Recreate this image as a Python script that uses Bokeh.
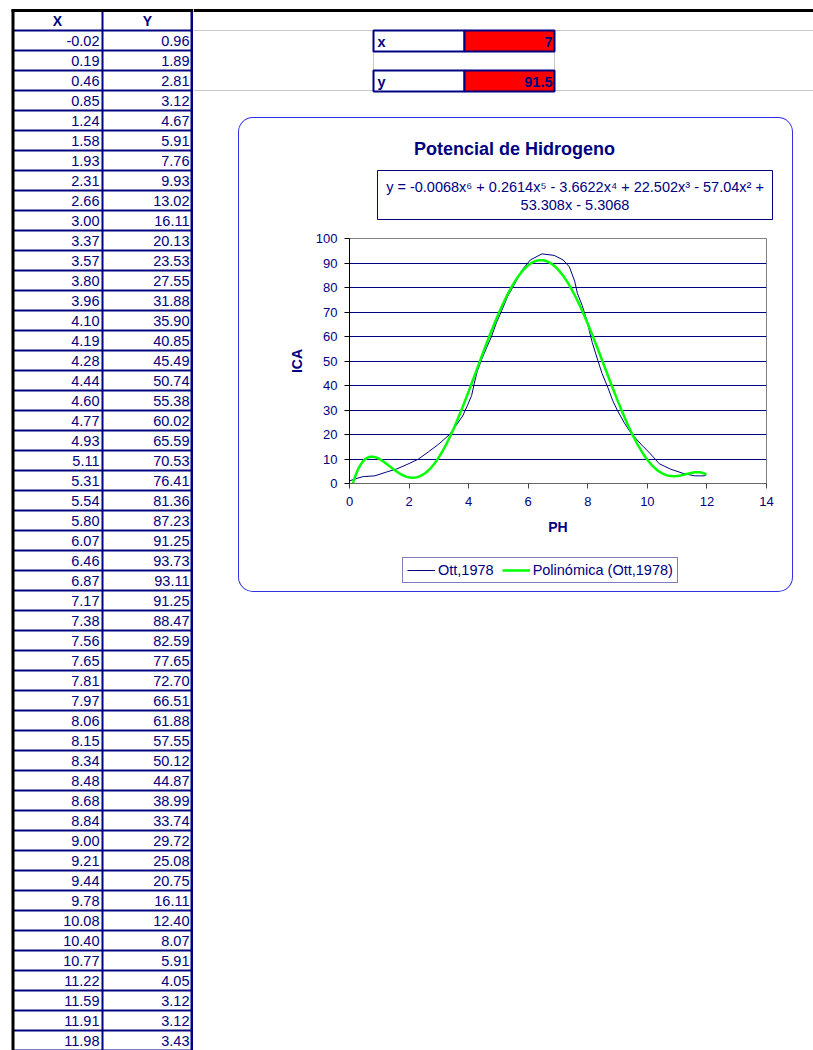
import numpy as np
from bokeh.plotting import figure
from bokeh.models import Range1d, Legend, LegendItem, Spacer
from bokeh.layouts import row, column
from bokeh.core.properties import value
from bokeh.embed import file_html
from bokeh.resources import INLINE

# ---------------- data ----------------
PH = [-0.02, 0.19, 0.46, 0.85, 1.24, 1.58, 1.93, 2.31, 2.66, 3.00, 3.37, 3.57, 3.80,
      3.96, 4.10, 4.19, 4.28, 4.44, 4.60, 4.77, 4.93, 5.11, 5.31, 5.54, 5.80, 6.07,
      6.46, 6.87, 7.17, 7.38, 7.56, 7.65, 7.81, 7.97, 8.06, 8.15, 8.34, 8.48, 8.68,
      8.84, 9.00, 9.21, 9.44, 9.78, 10.08, 10.40, 10.77, 11.22, 11.59, 11.91, 11.98]
ICA = [0.96, 1.89, 2.81, 3.12, 4.67, 5.91, 7.76, 9.93, 13.02, 16.11, 20.13, 23.53, 27.55,
       31.88, 35.90, 40.85, 45.49, 50.74, 55.38, 60.02, 65.59, 70.53, 76.41, 81.36, 87.23, 91.25,
       93.73, 93.11, 91.25, 88.47, 82.59, 77.65, 72.70, 66.51, 61.88, 57.55, 50.12, 44.87, 38.99,
       33.74, 29.72, 25.08, 20.75, 16.11, 12.40, 8.07, 5.91, 4.05, 3.12, 3.12, 3.43]
POLY_DEGREE = 6
CELL_X = "7"
CELL_Y = "91.5"
X_TICKS = [0, 2, 4, 6, 8, 10, 12, 14]
Y_TICKS = [0, 10, 20, 30, 40, 50, 60, 70, 80, 90, 100]
TITLE = "Potencial de Hidrogeno"
EQ_LINE1 = "y = -0.0068x\u2076 + 0.2614x\u2075 - 3.6622x\u2074 + 22.502x\u00b3 - 57.04x\u00b2 +"
EQ_LINE2 = "53.308x - 5.3068"
SERIES_NAME = "Ott,1978"
TREND_NAME = "Polin\u00f3mica (Ott,1978)"
HEAD_X = "X"
HEAD_Y = "Y"

NAVY = "#000080"
GREEN = "#00FF00"
FONT = "Liberation Sans"
F = value(FONT)


def blank_fig(w, h, x0, x1, y0, y1):
    f = figure(width=w, height=h, x_range=Range1d(x0, x1), y_range=Range1d(y1, y0),
               output_backend="svg", toolbar_location=None, min_border=0,
               x_axis_location=None, y_axis_location=None)
    f.grid.visible = False
    f.outline_line_color = None
    f.background_fill_alpha = 0
    f.border_fill_alpha = 0
    f.frame_align = False
    return f

# ---------------- table (left) ----------------
tf = blank_fig(193, 1050, 0, 193, 0, 1050)
n = len(PH)
row_y = 40 + 20 * np.arange(n)
line_y = 30 + 20 * np.arange(n + 1)

tf.segment(x0=12, x1=193, y0=line_y, y1=line_y, line_color=NAVY, line_width=2)
tf.segment(x0=102, x1=102, y0=10, y1=1050, line_color=NAVY, line_width=2)
tf.segment(x0=191.5, x1=191.5, y0=10, y1=1050, line_color=NAVY, line_width=3)
tf.segment(x0=12.5, x1=12.5, y0=9, y1=1050, line_color="black", line_width=3)
tf.segment(x0=11, x1=193, y0=10, y1=10, line_color="black", line_width=3)

tf.text(x=[57, 147], y=[20, 20], text=[HEAD_X, HEAD_Y], text_align="center",
        text_baseline="middle", text_font=F, text_font_size="14px",
        text_font_style="bold", text_color=NAVY)
tf.text(x=99, y=row_y, text=[f"{v:.2f}" for v in PH], text_align="right",
        text_baseline="middle", text_font=F, text_font_size="14.5px", text_color=NAVY)
tf.text(x=189, y=row_y, text=[f"{v:.2f}" for v in ICA], text_align="right",
        text_baseline="middle", text_font=F, text_font_size="14.5px", text_color=NAVY)

# ---------------- top sheet area with x / y cells ----------------
top = blank_fig(620, 117, 193, 813, 0, 117)
top.segment(x0=193, x1=813, y0=10, y1=10, line_color="black", line_width=3)
top.segment(x0=193, x1=813, y0=[30, 90], y1=[30, 90], line_color="#C8C8C8", line_width=1)
top.quad(left=373, right=554, top=51, bottom=70, fill_color="white", line_color="#C8C8C8")
top.quad(left=[373, 464, 373, 464], right=[464, 554, 464, 554],
         top=[30, 30, 70, 70], bottom=[51, 51, 91, 91],
         fill_color=["white", "#FF0000", "white", "#FF0000"], line_color=NAVY, line_width=2)
top.text(x=[377, 377], y=[41, 81], text=["x", "y"], text_align="left", text_baseline="middle",
         text_font=F, text_font_size="14.5px", text_font_style="bold", text_color=NAVY)
top.text(x=[552, 552], y=[41, 81], text=[CELL_X, CELL_Y], text_align="right",
         text_baseline="middle", text_font=F, text_font_size="14.5px",
         text_font_style="bold", text_color=NAVY)

# ---------------- chart header (title + equation) ----------------
hf = blank_fig(553, 110, 239, 792, 118, 228)
hf.text(x=[514], y=[148], text=[TITLE], text_align="center", text_baseline="middle",
        text_font=F, text_font_size="18px", text_font_style="bold", text_color=NAVY)
hf.quad(left=377, right=772, top=170, bottom=219, fill_color="white", line_color=NAVY,
        line_width=1)
hf.text(x=[574.5, 574.5], y=[186, 204], text=[EQ_LINE1, EQ_LINE2], text_align="center",
        text_baseline="middle", text_font=F, text_font_size="14.5px", text_color=NAVY)

# ---------------- chart ----------------
cf = figure(width=553, height=317, x_range=Range1d(0, 14), y_range=Range1d(0, 100),
            output_backend="svg", toolbar_location=None,
            min_border_left=110, min_border_right=26, min_border_top=10,
            min_border_bottom=62)
cf.frame_align = False
cf.background_fill_color = "white"
cf.border_fill_alpha = 0
cf.outline_line_color = "#808080"
cf.outline_line_width = 1

cf.xgrid.visible = False
cf.ygrid.ticker = Y_TICKS
cf.ygrid.grid_line_color = NAVY
cf.ygrid.grid_line_width = 1

for ax in (cf.xaxis[0], cf.yaxis[0]):
    ax.major_label_text_font = FONT
    ax.major_label_text_font_size = "13px"
    ax.major_label_text_color = NAVY
    ax.axis_label_text_font = FONT
    ax.axis_label_text_font_size = "14px"
    ax.axis_label_text_font_style = "bold"
    ax.axis_label_text_color = NAVY
    ax.major_tick_in = 0
    ax.major_tick_out = 5
    ax.minor_tick_line_color = None

cf.xaxis.ticker = X_TICKS
cf.yaxis.ticker = Y_TICKS
cf.xaxis.axis_label = "PH"
cf.yaxis.axis_label = "ICA"
cf.xaxis.axis_line_color = "#666666"
cf.xaxis.major_tick_line_color = "#444444"
cf.yaxis.axis_line_color = "black"
cf.yaxis.major_tick_line_color = "black"
cf.xaxis.major_label_standoff = 8
cf.yaxis.major_label_standoff = 7
cf.xaxis.axis_label_standoff = 10
cf.yaxis.axis_label_standoff = 8

cf.line(PH, ICA, line_color=NAVY, line_width=1)
coeffs = np.polyfit(PH, ICA, POLY_DEGREE)  # least-squares trendline, as in the chart
xs = np.linspace(min(PH), max(PH), 400)
fit = np.polyval(coeffs, xs)
cf.line(xs, fit, line_color=GREEN, line_width=2.5)

# ---------------- legend row under the chart ----------------
# same series drawn in the legend strip (their values lie outside its ranges,
# so only the legend keys show)
ft = blank_fig(553, 46, 239, 792, 545, 591)
k_data = ft.line(PH, ICA, line_color=NAVY, line_width=1)
k_fit = ft.line(xs, fit, line_color=GREEN, line_width=2.5)
legend = Legend(items=[LegendItem(label=SERIES_NAME, renderers=[k_data]),
                       LegendItem(label=TREND_NAME, renderers=[k_fit])],
                orientation="horizontal", location=(163, 8))
legend.border_line_color = NAVY
legend.border_line_width = 1
legend.background_fill_color = "white"
legend.background_fill_alpha = 1
legend.label_text_font = FONT
legend.label_text_font_size = "14.5px"
legend.label_text_color = NAVY
legend.glyph_width = 28
legend.glyph_height = 16
legend.label_standoff = 3
legend.spacing = 8
legend.padding = 4
legend.margin = 0
ft.add_layout(legend)

chart_box = column(hf, cf, ft, spacing=0,
                   styles={"box-shadow": "0 0 0 1px #3030E0", "border-radius": "14px"})
mid = row(Spacer(width=46, height=473), chart_box, Spacer(width=21, height=473), spacing=0)
right = column(top, Spacer(width=620, height=1), mid, spacing=0)
layout = row(tf, right, spacing=0)

open("out.html", "w").write(file_html(layout, INLINE))
